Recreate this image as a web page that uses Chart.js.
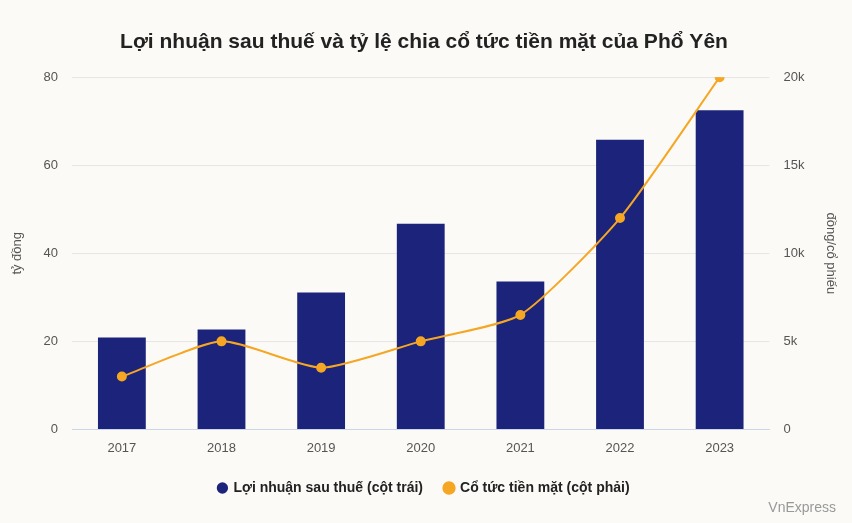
<!DOCTYPE html>
<html>
<head>
<meta charset="utf-8">
<script src="https://cdn.jsdelivr.net/npm/chart.js@4"></script>
<style>
  body { margin: 0; background: #fbfaf6; font-family: Arial, "Liberation Sans", sans-serif; }
  #wrap { position: relative; width: 852px; height: 523px; }
  #credit { position: absolute; right: 16px; bottom: 8px; color: #999; font-size: 14px; }
</style>
</head>
<body>
<div id="wrap">
  <canvas id="chart" width="852" height="523"></canvas>
  <div id="credit">VnExpress</div>
</div>
<script>
// Dữ liệu biểu đồ
const years = ["2017", "2018", "2019", "2020", "2021", "2022", "2023"];
const profit = [20.9, 22.7, 31.1, 46.7, 33.6, 65.8, 72.5];
const dividend = [3000, 5000, 3500, 5000, 6500, 12000, 20000];
const leftTicks = [0, 20, 40, 60, 80];
const rightTicks = [0, 5000, 10000, 15000, 20000];

const ctx = document.getElementById("chart").getContext("2d");

new Chart(ctx, {
  data: {
    labels: years,
    datasets: [
      {
        type: "line",
        label: "Cổ tức tiền mặt (cột phải)",
        data: dividend,
        yAxisID: "y1",
        borderColor: "#f5a623",
        backgroundColor: "#f5a623",
        borderWidth: 2,
        pointRadius: 4,
        tension: 0.2,
        order: 0,
      },
      {
        type: "bar",
        label: "Lợi nhuận sau thuế (cột trái)",
        data: profit,
        yAxisID: "y",
        backgroundColor: "#1b237a",
        barPercentage: 0.48,
        categoryPercentage: 1,
        order: 1,
      },
    ],
  },
  options: {
    responsive: false,
    animation: false,
    layout: { padding: { left: 6, right: 10, top: 0, bottom: 18 } },
    plugins: {
      title: {
        display: true,
        text: "Lợi nhuận sau thuế và tỷ lệ chia cổ tức tiền mặt của Phổ Yên",
        color: "#222",
        font: { size: 21, weight: "bold", family: "Arial" },
        padding: { top: 30, bottom: 22 },
      },
      legend: {
        position: "bottom",
        reverse: true,
        labels: {
          usePointStyle: true,
          pointStyle: "circle",
          boxWidth: 8,
          boxHeight: 8,
          color: "#222",
          font: { size: 14, weight: "bold", family: "Arial" },
          padding: 22,
        },
      },
    },
    scales: {
      x: {
        grid: { display: false },
        border: { color: "#ccd6eb" },
        ticks: { color: "#555", font: { size: 13 } },
      },
      y: {
        position: "left",
        min: 0,
        max: 80,
        afterBuildTicks: (s) => { s.ticks = leftTicks.map((v) => ({ value: v })); },
        grid: { color: "#e6e6e6", drawTicks: false },
        border: { display: false },
        ticks: { color: "#555", font: { size: 13 }, padding: 14 },
        title: { display: true, text: "tỷ đồng", color: "#555", font: { size: 13 } },
      },
      y1: {
        position: "right",
        min: 0,
        max: 20000,
        afterBuildTicks: (s) => { s.ticks = rightTicks.map((v) => ({ value: v })); },
        grid: { display: false, drawTicks: false },
        border: { display: false },
        ticks: {
          color: "#555",
          font: { size: 13 },
          padding: 14,
          callback: (v) => (v === 0 ? "0" : v / 1000 + "k"),
        },
        title: { display: true, text: "đồng/cổ phiếu", color: "#555", font: { size: 13 } },
      },
    },
  },
});
</script>
</body>
</html>
